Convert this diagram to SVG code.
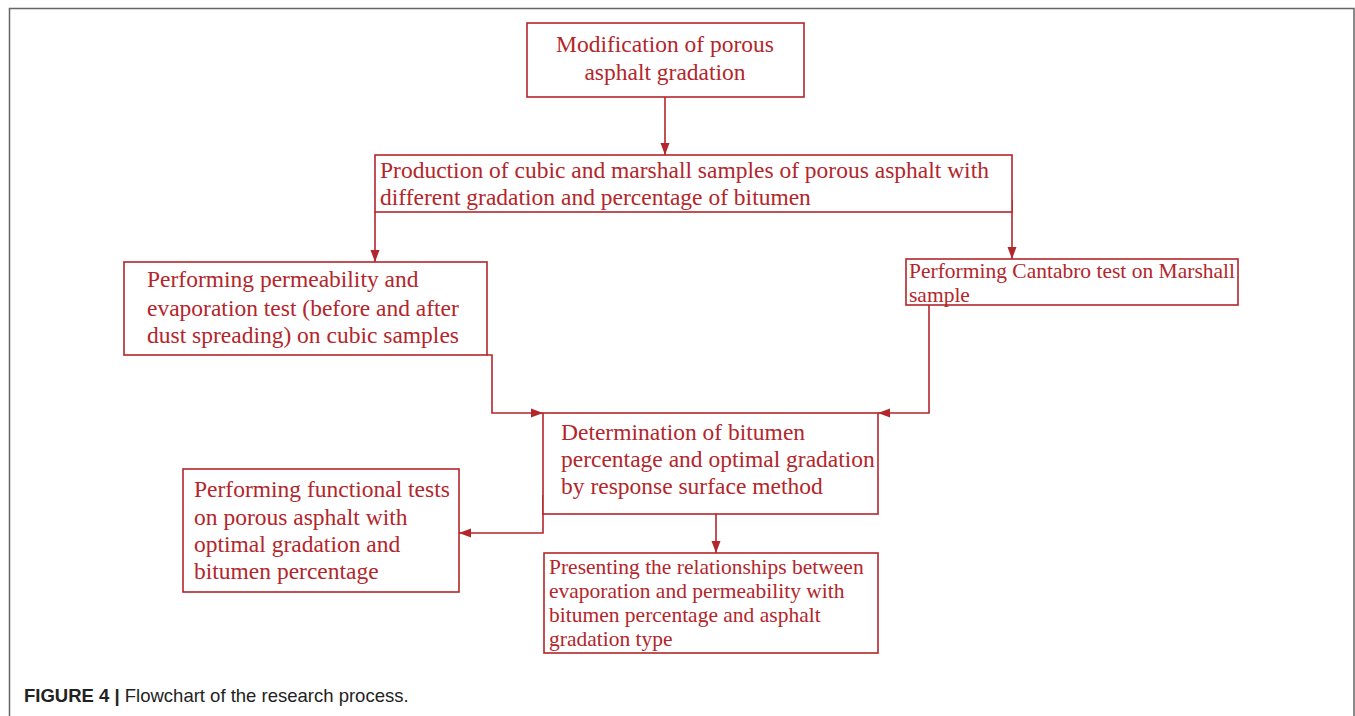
<svg xmlns="http://www.w3.org/2000/svg" width="1355" height="716" viewBox="0 0 1355 716">
<style>
.box{fill:#fff;stroke:#b3262b;stroke-width:1.6}
.t{font-family:"Liberation Serif","Times New Roman",serif;fill:#b3262b;font-size:23.5px}
.s{font-size:21.5px}
.c{fill:none;stroke:#b3262b;stroke-width:1.6}
.frame{fill:none;stroke:#666;stroke-width:1.5}
.cap{font-family:"Liberation Sans",Arial,sans-serif;font-size:18.5px;fill:#222}
</style>
<defs>
<marker id="ah" viewBox="0 0 12 10" refX="12" refY="5" markerWidth="12" markerHeight="10" markerUnits="userSpaceOnUse" orient="auto">
<path d="M0,0.5 L12,5 L0,9.5 z" fill="#b3262b"/>
</marker>
</defs>
<rect width="1355" height="716" fill="#fff"/>
<path class="frame" d="M9.5,716 V8.5 H1354 V716"/>
<g id="connectors">
<path class="c" d="M665,97 V155" marker-end="url(#ah)"/>
<path class="c" d="M375,212 V262" marker-end="url(#ah)"/>
<path class="c" d="M1012,200 V259" marker-end="url(#ah)"/>
<path class="c" d="M487,355 H492 V413 H543" marker-end="url(#ah)"/>
<path class="c" d="M929,305 V413 H878" marker-end="url(#ah)"/>
<path class="c" d="M543,495 V533 H459" marker-end="url(#ah)"/>
<path class="c" d="M716,514 V553" marker-end="url(#ah)"/>
</g>
<g id="n1">
<rect class="box" x="527" y="23" width="277" height="74"/>
<text class="t" x="665" y="52" text-anchor="middle">Modification of porous</text>
<text class="t" x="665" y="80" text-anchor="middle">asphalt gradation</text>
</g>
<g id="n2">
<rect class="box" x="375" y="155" width="637" height="57"/>
<text class="t" x="380" y="178">Production of cubic and marshall samples of porous asphalt with</text>
<text class="t" x="380" y="205">different gradation and percentage of bitumen</text>
</g>
<g id="n3">
<rect class="box" x="124" y="262" width="363" height="93"/>
<text class="t" x="147" y="287">Performing permeability and</text>
<text class="t" x="147" y="316">evaporation test (before and after</text>
<text class="t" x="147" y="343">dust spreading) on cubic samples</text>
</g>
<g id="n4">
<rect class="box" x="906" y="259" width="332" height="46"/>
<text class="t s" x="909" y="278">Performing Cantabro test on Marshall</text>
<text class="t s" x="909" y="302">sample</text>
</g>
<g id="n5">
<rect class="box" x="543" y="413" width="335" height="101"/>
<text class="t" x="561" y="440">Determination of bitumen</text>
<text class="t" x="561" y="467">percentage and optimal gradation</text>
<text class="t" x="561" y="494">by response surface method</text>
</g>
<g id="n6">
<rect class="box" x="183" y="469" width="276" height="123"/>
<text class="t" x="194" y="497">Performing functional tests</text>
<text class="t" x="194" y="525">on porous asphalt with</text>
<text class="t" x="194" y="552">optimal gradation and</text>
<text class="t" x="194" y="579">bitumen percentage</text>
</g>
<g id="n7">
<rect class="box" x="544" y="553" width="334" height="100"/>
<text class="t s" x="549" y="574">Presenting the relationships between</text>
<text class="t s" x="549" y="598">evaporation and permeability with</text>
<text class="t s" x="549" y="622">bitumen percentage and asphalt</text>
<text class="t s" x="549" y="646">gradation type</text>
</g>
<text class="cap" x="24" y="702"><tspan font-weight="bold">FIGURE 4 |</tspan> Flowchart of the research process.</text>
</svg>
